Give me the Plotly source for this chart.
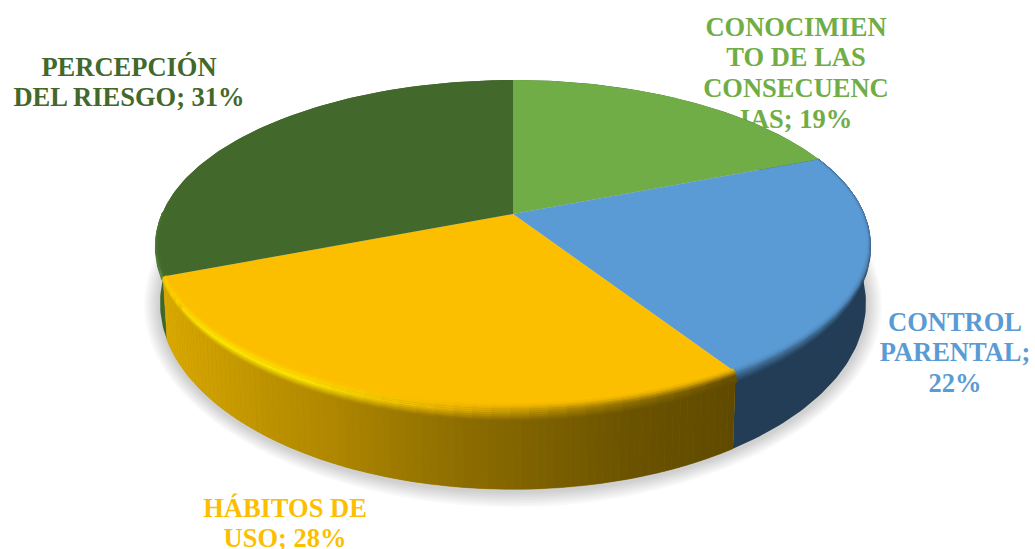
import math
import plotly.graph_objects as go

# ---- data ----
categories = ["CONOCIMIENTO DE LAS CONSECUENCIAS", "CONTROL PARENTAL", "HÁBITOS DE USO", "PERCEPCIÓN DEL RIESGO"]
values = [19, 22, 28, 31]
label_lines = [
    ["CONOCIMIEN", "TO DE LAS", "CONSECUENC", "IAS; 19%"],
    ["CONTROL", "PARENTAL;", "22%"],
    ["HÁBITOS DE", "USO; 28%"],
    ["PERCEPCIÓN", "DEL RIESGO; 31%"],
]

# ---- style ----
top_colors = ["#70ad47", "#5b9bd5", "#fcbf00", "#43682b"]
label_xy = [(796, 29), (955, 324), (285, 510), (129, 69)]
LINE_STEP = 30.7
FONT_SIZE = 26.5

# projection of the pie (perspective on a tilted disc)
CX, K = 513.0, 0.183
TOP = dict(cy=214.0, a=351.0, b=158.5)
BASE = dict(cy=269.0, a=347.0, b=180.0)
BA, BV, BV_BACK = 0.020, 0.052, 0.010


def rgb(h):
    return tuple(int(h[i:i + 2], 16) for i in (1, 3, 5))


def mix(c1, c2, t):
    a, b = rgb(c1), rgb(c2)
    return "#%02x%02x%02x" % tuple(round(a[i] + (b[i] - a[i]) * t) for i in range(3))


def ramp(stops, t):
    for (t0, c0), (t1, c1) in zip(stops, stops[1:]):
        if t <= t1:
            return mix(c0, c1, (t - t0) / (t1 - t0) if t1 > t0 else 0)
    return stops[-1][1]


def proj(theta, plane, d=0.0):
    u, v = math.sin(theta), -math.cos(theta)
    if d >= 0:
        u *= 1 - BA * d
        v *= 1 - (BV if v > 0 else BV_BACK) * d
    elif v > 0:
        # rounded lip: the rim bulges downward on the near side only
        v *= 1 - BV * d
    w = 1 - K * v
    return CX + plane["a"] * u / w, plane["cy"] + plane["b"] * v / w


def arc(t0, t1, plane, d=0.0, step=math.radians(1.0)):
    n = max(2, int(abs(t1 - t0) / step) + 1)
    return [proj(t0 + (t1 - t0) * i / n, plane, d) for i in range(n + 1)]


# slice angles come from the values
total = sum(values)
angles = [0.0]
for val in values:
    angles.append(angles[-1] + 2 * math.pi * val / total)
slices = list(zip(angles[:-1], angles[1:]))

fig = go.Figure()


def poly(points, color, seam=0.0):
    xs = [p[0] for p in points] + [points[0][0]]
    ys = [p[1] for p in points] + [points[0][1]]
    fig.add_trace(go.Scatter(
        x=xs, y=ys, mode="lines", fill="toself", fillcolor=color,
        line=dict(color=color, width=seam), hoverinfo="skip", showlegend=False,
    ))


# labels first: the pie is painted over them, as in the reference
lx, ly, lt, lc = [], [], [], []
for lines, (x0, y0), col in zip(label_lines, label_xy, top_colors):
    for i, line in enumerate(lines):
        lx.append(x0)
        ly.append(y0 + i * LINE_STEP)
        lt.append(line)
        lc.append(col)
fig.add_trace(go.Scatter(
    x=lx, y=ly, text=lt, mode="text", textposition="middle center",
    textfont=dict(family="Liberation Serif", size=FONT_SIZE, color=lc, weight="bold"),
    hoverinfo="skip", showlegend=False,
))

# soft shadow
base_outline = arc(0, 2 * math.pi, BASE)
for grow in range(16, 0, -2):
    pts = []
    for (x, y) in base_outline:
        dx, dy = x - CX, y - 300.0
        d = math.hypot(dx, dy) or 1
        pts.append((x + dx / d * grow, y + dy / d * grow + 2))
    poly(pts, "rgba(0,0,0,0.024)")

# side walls
yellow_wall = [(0.0, "#5f4a00"), (0.16, "#6a5200"), (0.38, "#8b6c00"), (0.58, "#b08800"),
               (0.8, "#cc9e00"), (1.0, "#dcab00")]
wall_constant = {0: "#3d6629", 1: "#223d55", 3: "#3d6629"}
for idx in (3, 0, 1, 2):
    t0, t1 = slices[idx]
    if idx == 2:
        poly(arc(t0, t1, TOP) + arc(t1, t0, BASE), ramp(yellow_wall, 0.5))
        n = 90
        for i in range(n):
            a0 = t0 + (t1 - t0) * i / n
            a1 = t0 + (t1 - t0) * (i + 1) / n
            c = ramp(yellow_wall, (i + 0.5) / n)
            poly(arc(a0, a1, TOP) + arc(a1, a0, BASE), c, seam=0.4)
    else:
        poly(arc(t0, t1, TOP) + arc(t1, t0, BASE), wall_constant[idx])

# top faces
for (t0, t1), col in zip(slices, top_colors):
    poly([(CX, TOP["cy"])] + arc(t0, t1, TOP), col)

# bevel along the rim: d runs from the outer lip (-1) to inside the face (+0.4)
LAYERS = 9
D_OUT, D_IN = -1.0, 0.4
yellow_hi = [(0.0, "#6a5200"), (0.2, "#9a7800"), (0.42, "#e8b400"), (0.62, "#ffe800"),
             (0.8, "#fff000"), (1.0, "#ffd800")]


def bevel(a0, a1, base, hi, wall):
    for j in range(LAYERS):
        tt = (j + 0.5) / LAYERS  # 0 outer .. 1 inner
        if tt < 0.5:
            c = mix(wall, hi, tt / 0.5)
        else:
            c = mix(hi, base, (tt - 0.5) / 0.5)
        d0 = D_OUT + (D_IN - D_OUT) * j / LAYERS
        d1 = D_OUT + (D_IN - D_OUT) * (j + 1) / LAYERS
        poly(arc(a0, a1, TOP, d0) + arc(a1, a0, TOP, d1), c, seam=0.3)


for idx, (t0, t1) in enumerate(slices):
    base = top_colors[idx]
    if idx == 2:
        n = 40
        for i in range(n):
            a0 = t0 + (t1 - t0) * i / n
            a1 = t0 + (t1 - t0) * (i + 1) / n
            t = (i + 0.5) / n
            bevel(a0, a1, base, ramp(yellow_hi, t), ramp(yellow_wall, t))
    elif idx == 3:
        # only the stretch on the far left catches light
        bevel(t0, t0 + (t1 - t0) * 0.2, base, "#4f8238", "#3d6629")
    elif idx == 1:
        bevel(t0, t1, base, mix(base, wall_constant[idx], 0.55), wall_constant[idx])

fig.update_layout(
    width=1035, height=549, margin=dict(l=0, r=0, t=0, b=0),
    paper_bgcolor="white", plot_bgcolor="white", showlegend=False,
    xaxis=dict(range=[0, 1035], visible=False, fixedrange=True),
    yaxis=dict(range=[549, 0], visible=False, fixedrange=True),
)
fig.write_html("out.html", config={"displayModeBar": False},
               post_script="document.body.style.margin='0';document.documentElement.style.overflow='hidden';")
